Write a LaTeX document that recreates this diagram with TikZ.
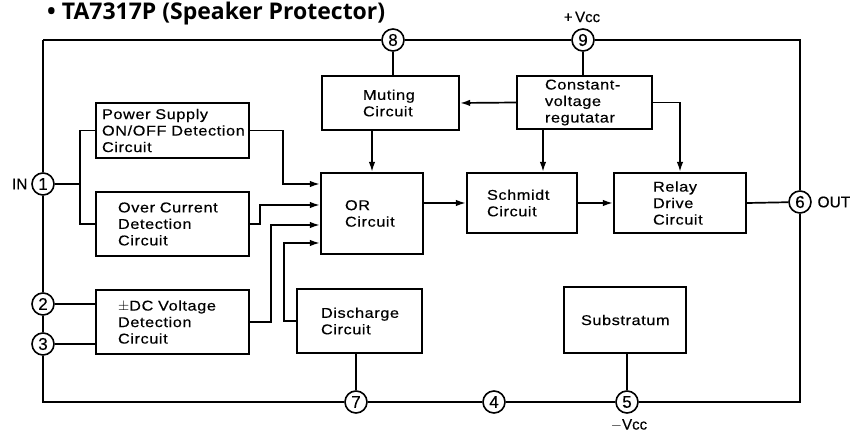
\documentclass[tikz,border=0pt]{standalone}
\usepackage{fontspec}
\setmainfont{Liberation Sans}[FakeStretch=1.15,LetterSpace=4,FakeBold=0.4]
\newfontfamily\pinf{Liberation Sans}[FakeBold=0.4]
\newfontfamily\titlef{Open Sans}
\usetikzlibrary{arrows.meta,calc}
\begin{document}
\begin{tikzpicture}[x=1pt,y=-1pt,
  blk/.style={draw,line width=2.2pt,inner ysep=0pt,align=left,font=\fontsize{14.2}{16.5}\selectfont},
  pin/.style={draw,circle,line width=1.6pt,fill=white,minimum size=22pt,inner sep=0pt,font=\pinf\fontsize{17}{17}\selectfont},
  frame/.style={line width=2pt},
  conn/.style={line width=1.7pt},
  arr/.style={line width=1.7pt,-{Latex[length=10pt,width=6.5pt]}},
  thin/.style={line width=1.2pt},
  lbl/.style={font=\pinf\fontsize{15.5}{15.5}\selectfont},
]
\useasboundingbox (0,0) rectangle (853,435);
% title
\node[anchor=base west,inner sep=0pt,font=\titlef\bfseries\fontsize{23}{23}\selectfont] (title) at (47,20) {\textbullet\ TA7317P (Speaker Protector)};
% pins
\node[pin] (p1) at (43,184) {1};
\node[pin] (p2) at (43,304) {2};
\node[pin] (p3) at (43,344) {3};
\node[pin] (p8) at (393,40) {8};
\node[pin] (p9) at (583,40) {9};
\node[pin] (p6) at (800,202) {6};
\node[pin] (p7) at (356,402) {7};
\node[pin] (p4) at (494,402) {4};
\node[pin] (p5) at (627,402) {5};
% frame
\coordinate (tl) at (43,40);
\coordinate (tr) at (800,40);
\coordinate (br) at (800,402);
\coordinate (bl) at (43,402);
\draw[frame] (tl) -- (p8) -- (p9) -- (tr) -- (p6) -- (br) -- (p5) -- (p4) -- (p7) -- (bl) -- (p3) -- (p2) -- (p1) -- (tl);
% labels
\node[lbl,anchor=east] (in) at (31,184) {IN};
\node[lbl,anchor=west] (out) at (814,202) {OUT};
\node[lbl,font=\pinf\fontsize{15}{15}\selectfont] (vccp) at (582,17) {+\,Vcc};
\node[lbl,font=\pinf\fontsize{15}{15}\selectfont] (vccm) at (629,425) {$-$Vcc};
% boxes
\node[blk,minimum height=55pt,inner xsep=6pt,text width=141pt] (pwr) at (172.5,130.5) {\mbox{Power Supply}\\\mbox{ON/OFF Detection}\\\mbox{Circuit}};
\node[blk,minimum height=64pt,inner xsep=22pt,text width=109pt] (ovc) at (172.5,224) {Over Current\\Detection\\Circuit};
\node[blk,minimum height=64pt,inner xsep=22pt,text width=109pt] (dcv) at (172.5,322) {$\pm$DC Voltage\\Detection\\Circuit};
\node[blk,minimum height=54pt,inner xsep=41pt,text width=55pt] (mut) at (390.5,103) {Muting\\Circuit};
\node[blk,minimum height=53pt,inner xsep=28pt,text width=79pt] (cvr) at (584.5,102.5) {Constant-\\voltage\\regutatar};
\node[blk,minimum height=81pt,inner xsep=24pt,text width=54pt] (orc) at (372,213.5) {OR\\Circuit};
\node[blk,minimum height=60pt,inner xsep=20pt,text width=70pt] (sch) at (522,203) {Schmidt\\Circuit};
\node[blk,minimum height=60pt,inner xsep=39pt,text width=54pt] (rly) at (680,203) {Relay\\Drive\\Circuit};
\node[blk,minimum height=64pt,inner xsep=24pt,text width=77pt] (dis) at (359.5,321) {Discharge\\Circuit};
\node[blk,minimum height=66pt,inner xsep=17pt,text width=88pt] (sub) at (625,320) {Substratum};
% input bus
\coordinate (bus) at (80,184);
\draw[conn] (p1) -- (bus);
\draw[conn] (pwr.west) -| (bus) |- (ovc.west);
% into OR
\coordinate (j1) at (283,184);
\coordinate (j2) at (260,205);
\coordinate (j3) at (271,225);
\coordinate (j4) at (284,243);
\draw[arr] (pwr.east) -| (j1) -- (j1 -| orc.west);
\draw[arr] (ovc.east) -| (j2) -- (j2 -| orc.west);
\draw[arr] (dcv.east) -| (j3) -- (j3 -| orc.west);
\draw[arr] (dis.west) -| (j4) -- (j4 -| orc.west);
\draw[arr] (orc.north |- mut.south) -- (orc.north);
% supply
\draw[thin] (p8) -- (p8 |- mut.north);
\draw[thin] (p9) -- (p9 |- cvr.north);
\draw[arr] (cvr.west) -- (mut.east);
\coordinate (c1) at (543,129);
\draw[arr] (c1) -- (c1 |- sch.north);
\draw[arr] (cvr.east) -| (rly.north);
% main chain
\draw[arr] (orc.east |- sch.west) -- (sch.west);
\draw[arr] (sch.east) -- (rly.west);
\draw[conn] (rly.east) -- (p6);
% other pins
\draw[conn] (p2) -- (p2 -| dcv.west);
\draw[conn] (p3) -- (p3 -| dcv.west);
\draw[thin] (p7 |- dis.south) -- (p7);
\draw[thin] (p5 |- sub.south) -- (p5);
\end{tikzpicture}
\end{document}
